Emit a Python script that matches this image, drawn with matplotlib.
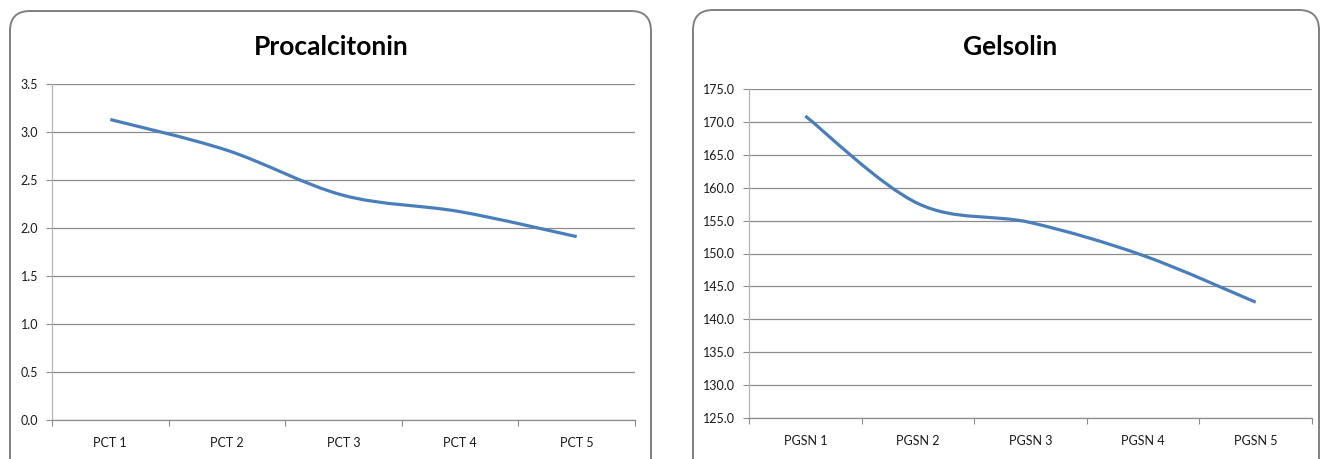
import matplotlib
matplotlib.use("Agg")
import matplotlib.pyplot as plt
from matplotlib.path import Path
from matplotlib.patches import PathPatch, FancyBboxPatch

# data
pct_labels = ["PCT 1", "PCT 2", "PCT 3", "PCT 4", "PCT 5"]
pct_values = [3.13, 2.81, 2.34, 2.17, 1.91]
pct_ticks = [0.0, 0.5, 1.0, 1.5, 2.0, 2.5, 3.0, 3.5]

gsn_labels = ["PGSN 1", "PGSN 2", "PGSN 3", "PGSN 4", "PGSN 5"]
gsn_values = [170.9, 157.6, 154.7, 149.7, 142.6]
gsn_ticks = [125.0, 130.0, 135.0, 140.0, 145.0, 150.0, 155.0, 160.0, 165.0, 170.0, 175.0]

# style
font = ["Lato", "DejaVu Sans"]
line_color = "#4a7ebb"
grid_color = "#8c8c8c"
frame_color = "#808080"
tick_size = 9
title_size = 19

W, H = 1322, 459
fig = plt.figure(figsize=(W / 100, H / 100), dpi=100)

# background layer in pixel units for the rounded chart frames
bg = fig.add_axes([0, 0, 1, 1])
bg.set_xlim(0, W)
bg.set_ylim(H, 0)
bg.axis("off")
for x0, x1, y0 in [(10, 651, 11), (693, 1319, 10)]:
    bg.add_patch(FancyBboxPatch((x0, y0), x1 - x0, 500, boxstyle="round,pad=0,rounding_size=20",
                                fc="white", ec=frame_color, lw=1.4))


def smooth_path(xs, ys):
    # cubic bezier through the points, control points from the neighbours (1/6 rule)
    pts = list(zip(xs, ys))
    n = len(pts)
    verts = [pts[0]]
    codes = [Path.MOVETO]
    for i in range(n - 1):
        p0 = pts[i - 1] if i > 0 else pts[i]
        p1 = pts[i]
        p2 = pts[i + 1]
        p3 = pts[i + 2] if i + 2 < n else pts[i + 1]
        c1 = (p1[0] + (p2[0] - p0[0]) / 6, p1[1] + (p2[1] - p0[1]) / 6)
        c2 = (p2[0] - (p3[0] - p1[0]) / 6, p2[1] - (p3[1] - p1[1]) / 6)
        verts += [c1, c2, p2]
        codes += [Path.CURVE4] * 3
    return Path(verts, codes)


def panel(rect, labels, values, yticks, fmt, title, title_x):
    ax = fig.add_axes(rect)
    ax.set_facecolor("none")
    n = len(labels)
    xs = list(range(1, n + 1))
    ax.set_xlim(0.5, n + 0.5)
    ax.set_ylim(yticks[0], yticks[-1])
    ax.set_yticks(yticks)
    ax.set_yticklabels([fmt.format(v) for v in yticks], family=font, fontsize=tick_size)
    ax.set_xticks([i + 0.5 for i in range(0, n + 1)])
    ax.set_xticklabels([])
    ax.set_xticks(xs, minor=True)
    ax.set_xticklabels(labels, minor=True, family=font, fontsize=tick_size)
    ax.tick_params(axis="x", which="major", length=4, width=0.8)
    ax.tick_params(axis="x", which="minor", length=0, pad=12)
    ax.tick_params(axis="y", length=4, width=0.8, pad=6)
    ax.tick_params(which="both", labelcolor="#1a1a1a")
    ax.tick_params(which="major", color=grid_color)
    ax.grid(axis="y", color=grid_color, lw=0.9)
    ax.set_axisbelow(True)
    for s in ["top", "right"]:
        ax.spines[s].set_visible(False)
    ax.spines["left"].set_color("#b4b4b4")
    ax.spines["bottom"].set_color(grid_color)
    ax.spines["left"].set_linewidth(0.9)
    ax.spines["bottom"].set_linewidth(0.9)
    ax.add_patch(PathPatch(smooth_path(xs, values), fill=False, ec=line_color, lw=2.3,
                           capstyle="butt", zorder=3))
    fig.text(title_x / W, 1 - 55 / H, title, ha="center", va="baseline",
             family=font, fontsize=title_size, fontweight="bold")
    return ax


panel([52 / W, 1 - 420 / H, (635 - 52) / W, (420 - 84) / H],
      pct_labels, pct_values, pct_ticks, "{:.1f}", "Procalcitonin", 331)
panel([749 / W, 1 - 418 / H, (1312 - 749) / W, (418 - 89) / H],
      gsn_labels, gsn_values, gsn_ticks, "{:.1f}", "Gelsolin", 1010)

fig.savefig("out.png", dpi=100)
